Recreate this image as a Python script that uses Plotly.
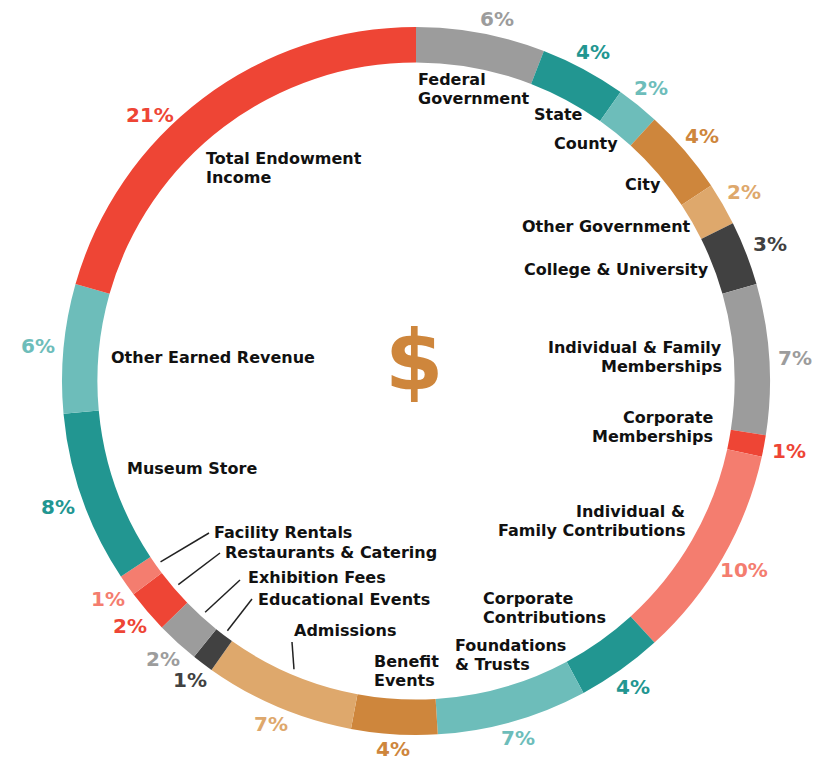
"""
Museum revenue sources - thin donut ring with labels inside and shares outside
"""

import math
import plotly.graph_objects as go

# ---- data ----
categories = ["Federal Government", "State", "County", "City", "Other Government",
              "College & University", "Individual & Family Memberships",
              "Corporate Memberships", "Individual & Family Contributions",
              "Corporate Contributions", "Foundations & Trusts", "Benefit Events",
              "Admissions", "Educational Events", "Exhibition Fees",
              "Restaurants & Catering", "Facility Rentals", "Museum Store",
              "Other Earned Revenue", "Total Endowment Income"]
shares = [6, 4, 2, 4, 2, 3, 7, 1, 10, 4, 7, 4, 7, 1, 2, 2, 1, 8, 6, 21]

# ---- styling ----
RED = "#EE4535"
SALMON = "#F47D6F"
GRAY = "#9C9C9C"
DARK = "#414141"
TEAL = "#229691"
LTEAL = "#6DBDBA"
ORANGE = "#CE863C"
TAN = "#DEA86C"
colors = [GRAY, TEAL, LTEAL, ORANGE, TAN, DARK, GRAY, RED, SALMON, TEAL,
          LTEAL, ORANGE, TAN, DARK, GRAY, RED, SALMON, TEAL, LTEAL, RED]

# page is 821x764 but the html body has an 8px margin
OFF = 8
W, H = 821 - OFF, 764 - OFF
CX, CY, R = 416, 381, 354      # ring centre / outer radius in page pixels
FONT = "DejaVu Sans"
LINE_GAP = 19

# where the black labels sit inside the ring: (x, y, anchor, text)
inner_labels = {
    "Federal Government": (417, 89, "left", "Federal<br>Government"),
    "State": (533, 114, "left", "State"),
    "County": (553, 143, "left", "County"),
    "City": (624, 184, "left", "City"),
    "Other Government": (521, 226, "left", "Other Government"),
    "College & University": (523, 269, "left", "College & University"),
    "Individual & Family Memberships": (723, 357, "right", "Individual & Family<br>Memberships"),
    "Corporate Memberships": (714, 427, "right", "Corporate<br>Memberships"),
    "Individual & Family Contributions": (686, 521, "right", "Individual &<br>Family Contributions"),
    "Corporate Contributions": (482, 608, "left", "Corporate<br>Contributions"),
    "Foundations & Trusts": (454, 655, "left", "Foundations<br>& Trusts"),
    "Benefit Events": (373, 671, "left", "Benefit<br>Events"),
    "Admissions": (293, 630, "left", "Admissions"),
    "Educational Events": (257, 599, "left", "Educational Events"),
    "Exhibition Fees": (247, 577, "left", "Exhibition Fees"),
    "Restaurants & Catering": (224, 552, "left", "Restaurants & Catering"),
    "Facility Rentals": (213, 532, "left", "Facility Rentals"),
    "Museum Store": (126, 468, "left", "Museum Store"),
    "Other Earned Revenue": (110, 357, "left", "Other Earned Revenue"),
    "Total Endowment Income": (205, 168, "left", "Total Endowment<br>Income"),
}
# leader lines: label end of the line
leader_ends = {
    "Facility Rentals": (209, 533),
    "Restaurants & Catering": (220, 553),
    "Exhibition Fees": (240, 580),
    "Educational Events": (252, 599),
    "Admissions": (292, 642),
}
pct_nudge = {"Total Endowment Income": -8, "Federal Government": 2}


def px(x, y):
    return (x - OFF) / W, 1 - (y - OFF) / H


def ring_point(angle_deg, r):
    a = math.radians(angle_deg)
    return CX + r * math.sin(a), CY - r * math.cos(a)


fig = go.Figure()
x0d, y0d = px(CX - R, CY + R)
x1d, y1d = px(CX + R, CY - R)
fig.add_trace(go.Pie(
    labels=categories, values=shares, sort=False, direction="clockwise",
    rotation=0, hole=0.9, textinfo="none", hoverinfo="label+value",
    marker=dict(colors=colors, line=dict(width=0)),
    domain=dict(x=[x0d, x1d], y=[y0d, y1d]),
    showlegend=False,
))

total = sum(shares)
annotations = []
shapes = []
cum = 0
for name, val, col in zip(categories, shares, colors):
    mid = (cum + val / 2) / total * 360
    cum += val
    # outside percentage: a bit further out at the sides where the text is wider
    ang = mid + pct_nudge.get(name, 0)
    x, y = ring_point(ang, 368 + 12 * abs(math.sin(math.radians(ang))))
    ax, ay = px(x, y)
    annotations.append(dict(x=ax, y=ay, xref="paper", yref="paper", text=f"{val}%",
                            showarrow=False, xanchor="center", yanchor="middle",
                            font=dict(family=FONT, size=20, color=col, weight="bold")))
    # inside label, one annotation per line so the line gap can be tight
    lx, ly, anchor, txt = inner_labels[name]
    lines = txt.split("<br>")
    top = ly - LINE_GAP * (len(lines) - 1) / 2
    for i, line in enumerate(lines):
        ax, ay = px(lx, top + i * LINE_GAP)
        annotations.append(dict(x=ax, y=ay, xref="paper", yref="paper", text=line,
                                showarrow=False, xanchor=anchor, yanchor="middle",
                                borderpad=0,
                                font=dict(family=FONT, size=16, color="#111111", weight="bold")))
    if name in leader_ends:
        xa, ya = ring_point(mid, 313)
        xb, yb = leader_ends[name]
        p0, p1 = px(xa, ya), px(xb, yb)
        shapes.append(dict(type="line", xref="paper", yref="paper",
                           x0=p0[0], y0=p0[1], x1=p1[0], y1=p1[1],
                           line=dict(color="#222222", width=1.5)))

# dollar sign in the middle
dx, dy = px(414, 361)
annotations.append(dict(x=dx, y=dy, xref="paper", yref="paper", text="$", showarrow=False,
                        xanchor="center", yanchor="middle",
                        font=dict(family=FONT, size=84, color=ORANGE, weight="bold")))

fig.update_layout(width=W, height=H, margin=dict(l=0, r=0, t=0, b=0),
                  paper_bgcolor="white", plot_bgcolor="white",
                  annotations=annotations, shapes=shapes)
fig.write_html("out.html")
